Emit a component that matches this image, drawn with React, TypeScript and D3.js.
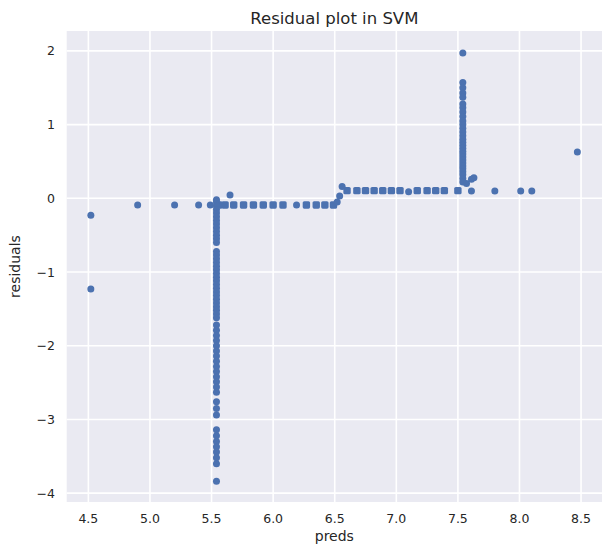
import React from "react";
import * as d3 from "d3";

// ---- data ----
const xTicks = [4.5, 5.0, 5.5, 6.0, 6.5, 7.0, 7.5, 8.0, 8.5];
const yTicks = [2, 1, 0, -1, -2, -3, -4];

// vertical column of residuals at pred ≈ 5.54
const colLowX = 5.54;
const colLowY = [
  -0.02, -0.05, -0.1, -0.15, -0.2, -0.25, -0.3, -0.35, -0.4, -0.45, -0.5, -0.55, -0.6,
  -0.72, -0.77, -0.82, -0.87, -0.92, -0.97, -1.02, -1.07, -1.12, -1.17, -1.22, -1.27,
  -1.32, -1.37, -1.42, -1.47, -1.52, -1.57, -1.62,
  -1.72, -1.79, -1.86, -1.93, -2.0, -2.07, -2.14, -2.21, -2.28, -2.35, -2.42, -2.49, -2.56, -2.63,
  -2.76, -2.85, -2.94,
  -3.14, -3.22, -3.3, -3.37, -3.44, -3.52, -3.6,
  -3.84,
];

// vertical column of residuals at pred ≈ 7.54
const colHighX = 7.54;
const colHighY = [
  1.97, 1.57, 1.5, 1.43, 1.37, 1.28, 1.23, 1.17, 1.11, 1.05, 1.0, 0.95, 0.9, 0.85, 0.8,
  0.76, 0.72, 0.68, 0.64, 0.6, 0.56, 0.52, 0.48, 0.44, 0.4, 0.36, 0.32, 0.27, 0.22,
];

// horizontal bands of overlapping points (drawn as square clusters)
const lowBandY = -0.09;
const lowBandX = [5.56, 5.61, 5.68, 5.76, 5.84, 5.92, 6.0, 6.08, 6.27, 6.35, 6.42, 6.49];
const highBandY = 0.105;
const highBandX = [6.6, 6.68, 6.75, 6.82, 6.89, 6.96, 7.03, 7.17, 7.25, 7.32, 7.39, 7.5];

// remaining single points
const otherX = [4.52, 4.52, 4.9, 5.2, 5.395, 5.49, 5.65, 6.19, 6.52, 6.54, 6.56, 7.1, 7.57, 7.61, 7.63, 7.61, 7.8, 8.01, 8.1, 8.47];
const otherY = [-0.23, -1.23, -0.09, -0.09, -0.09, -0.09, 0.045, -0.09, -0.05, 0.03, 0.16, 0.09, 0.2, 0.26, 0.28, 0.1, 0.1, 0.1, 0.1, 0.63];

const W = 602;
const H = 546;
const plot = { left: 66.7, right: 602, top: 31, bottom: 502 };
const BLUE = "#4C72B0";
const TEXT = "#262626";
const FONT = "'DejaVu Sans', 'Liberation Sans', Arial, sans-serif";

export default function App() {
  const x = d3.scaleLinear().domain([4.324, 8.67]).range([plot.left, plot.right]);
  const y = d3.scaleLinear().domain([-4.12, 2.27]).range([plot.bottom, plot.top]);
  const r = 3.5;

  const circles: [number, number][] = [
    ...colLowY.map((v) => [colLowX, v] as [number, number]),
    ...colHighY.map((v) => [colHighX, v] as [number, number]),
    ...otherX.map((v, i) => [v, otherY[i]] as [number, number]),
  ];
  const squares: [number, number][] = [
    ...lowBandX.map((v) => [v, lowBandY] as [number, number]),
    ...highBandX.map((v) => [v, highBandY] as [number, number]),
  ];
  const sq = 7.4;

  return (
    <svg
      width={W}
      height={H}
      style={{ position: "absolute", left: 0, top: 0, display: "block", background: "#fff" }}
      fontFamily={FONT}
    >
      <defs>
        <clipPath id="plotclip">
          <rect x={plot.left} y={plot.top} width={plot.right - plot.left} height={plot.bottom - plot.top} />
        </clipPath>
      </defs>
      <rect x={plot.left} y={plot.top} width={plot.right - plot.left} height={plot.bottom - plot.top} fill="#EAEAF2" />
      {xTicks.map((t) => (
        <line key={"gx" + t} x1={x(t)} x2={x(t)} y1={plot.top} y2={plot.bottom} stroke="#fff" strokeWidth={1.6} />
      ))}
      {yTicks.map((t) => (
        <line key={"gy" + t} y1={y(t)} y2={y(t)} x1={plot.left} x2={plot.right} stroke="#fff" strokeWidth={1.6} />
      ))}
      <g clipPath="url(#plotclip)">
        {squares.map(([a, b], i) => (
          <rect key={"s" + i} x={x(a) - sq / 2} y={y(b) - sq / 2} width={sq} height={sq} rx={1.6} fill={BLUE} />
        ))}
        {circles.map(([a, b], i) => (
          <circle key={"c" + i} cx={x(a)} cy={y(b)} r={r} fill={BLUE} />
        ))}
      </g>
      {xTicks.map((t) => (
        <text key={"tx" + t} x={x(t)} y={522.8} textAnchor="middle" fontSize={12.5} fill={TEXT}>
          {d3.format(".1f")(t)}
        </text>
      ))}
      {yTicks.map((t) => (
        <text key={"ty" + t} x={55} y={y(t) + 4.5} textAnchor="end" fontSize={12.5} fill={TEXT}>
          {t < 0 ? "\u2212" + Math.abs(t) : String(t)}
        </text>
      ))}
      <text x={(plot.left + plot.right) / 2} y={24} textAnchor="middle" fontSize={16.5} fill={TEXT}>
        Residual plot in SVM
      </text>
      <text x={(plot.left + plot.right) / 2} y={541} textAnchor="middle" fontSize={14} fill={TEXT}>
        preds
      </text>
      <text
        transform={`translate(20, ${(plot.top + plot.bottom) / 2}) rotate(-90)`}
        textAnchor="middle"
        fontSize={14}
        fill={TEXT}
      >
        residuals
      </text>
    </svg>
  );
}
